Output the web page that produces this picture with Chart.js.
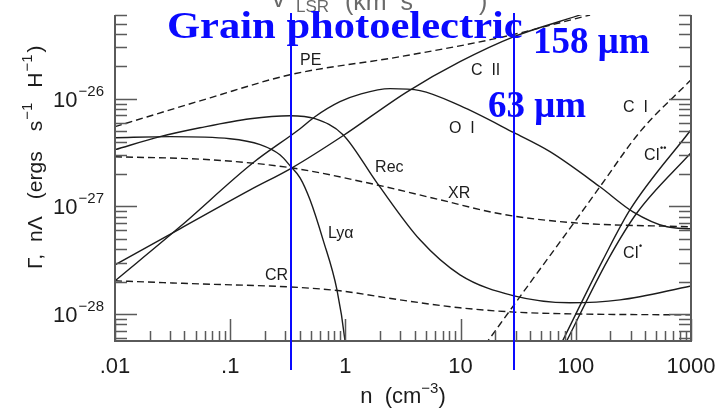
<!DOCTYPE html>
<html>
<head>
<meta charset="utf-8">
<script src="https://cdn.jsdelivr.net/npm/chart.js@4.4.1/dist/chart.umd.min.js"></script>
<style>
  html, body { margin: 0; padding: 0; background: #fff; }
  canvas { display: block; }
</style>
</head>
<body>
<canvas id="coolingChart" width="722" height="412"></canvas>
<script>
// heating / cooling rates per H atom against density n (cm^-3)
const peN    = [0.01, 0.067, 0.33, 3.0, 22, 133];
const peRate = [5.5e-27, 1.02e-26, 1.67e-26, 2.46e-26, 3.7e-26, 6.0e-26];

const ciiN    = [0.01, 0.0366, 0.149, 0.344, 0.953, 3.43, 9.88, 29.1, 111, 200];
const ciiRate = [2.86e-28, 6.18e-28, 1.42e-27, 2.28e-27, 4.53e-27, 1.16e-26, 2.21e-26, 3.78e-26, 6.04e-26, 7.5e-26];

const oiN    = [0.01, 0.0366, 0.158, 0.404, 0.544, 0.897, 1.37, 2.44, 4.44, 9.88, 29.1, 59.7, 162, 314, 619, 1000];
const oiRate = [2.03e-28, 6.45e-28, 2.54e-27, 5.26e-27, 6.8e-27, 9.38e-27, 1.11e-26, 1.24e-26, 1.19e-26, 8.61e-27, 4.83e-27, 3.22e-27, 1.52e-27, 8.89e-28, 6.45e-28, 6.18e-28];

const recN    = [0.01, 0.0246, 0.0547, 0.149, 0.33, 0.544, 0.953, 1.88, 4.44, 9.88, 29.1, 89.1, 242, 1000];
const recRate = [3.36e-27, 4.44e-27, 5.37e-27, 6.52e-27, 6.95e-27, 6.52e-27, 4.63e-27, 1.65e-27, 4.88e-28, 2.31e-28, 1.47e-28, 1.27e-28, 1.35e-28, 1.82e-28];

const lyaN    = [0.01, 0.03, 0.0995, 0.182, 0.27, 0.337, 0.404, 0.493, 0.64, 0.845, 0.993, 1.03];
const lyaRate = [4.34e-27, 4.44e-27, 4.25e-27, 3.74e-27, 3.01e-27, 2.33e-27, 1.84e-27, 1.15e-27, 4.88e-28, 1.67e-28, 5.6e-29, 3.7e-29];

const xrN    = [0.01, 0.0668, 0.337, 1.88, 6.62, 22, 96.4, 1000];
const xrRate = [2.89e-27, 2.71e-27, 2.28e-27, 1.58e-27, 1.15e-27, 8.52e-28, 7.03e-28, 6.45e-28];

const crN    = [0.01, 0.0547, 0.33, 0.897, 2.98, 9.88, 29.1, 96.4, 1000];
const crRate = [2.03e-28, 1.9e-28, 1.78e-28, 1.64e-28, 1.35e-28, 1.14e-28, 1.04e-28, 1.0e-28, 9.79e-29];

const ciN    = [16.3, 40, 96.4, 162, 361, 1000];
const ciRate = [5.15e-29, 1.94e-28, 7.03e-28, 1.52e-27, 4.93e-27, 1.5e-26];

const ci2N    = [70, 172, 295, 1000];
const ci2Rate = [4.6e-29, 3.18e-28, 9.27e-28, 5.15e-27];

const ci1N    = [76, 190, 340, 1000];
const ci1Rate = [4.6e-29, 3.18e-28, 8.71e-28, 3.15e-27];

// densities of the two marked lines (158 um and 63 um)
const markerN = [0.337, 29.1];

const xTickValues = [0.01, 0.1, 1, 10, 100, 1000];
const xTickLabels = ['.01', '.1', '1', '10', '100', '1000'];
const yTickExps = [-28, -27, -26];

// curve names, placed at (n, rate)
const curveLabels = [
    { text: 'PE',   n: 0.404, rate: 2.07e-26 },
    { text: 'C  II', n: 12.3, rate: 1.67e-26 },
    { text: 'O  I', n: 7.93,  rate: 4.83e-27 },
    { text: 'C  I', n: 257,   rate: 7.57e-27 },
    { text: 'Rec',  n: 1.81,  rate: 2.09e-27 },
    { text: 'XR',   n: 7.78,  rate: 1.2e-27 },
    { text: 'Ly\u03b1', n: 0.706, rate: 5.09e-28 },
    { text: 'CR',   n: 0.2,   rate: 2.07e-28 },
    { text: 'CI',   n: 391,   rate: 2.71e-27, sup: '\u2022\u2022' },
    { text: 'CI',   n: 257,   rate: 3.32e-28, sup: '\u2022' }
];

const INK = '#1c1c1c';
const AXIS = '#5a5a5a';
const BLUE = '#0a0aff';
const SANS = '"Liberation Sans", Arial, sans-serif';
const SERIF = '"Liberation Serif", "Times New Roman", serif';

function pts(xs, ys) {
    return xs.map((x, i) => ({ x: x, y: ys[i] }));
}

function curve(xs, ys, dashed) {
    return {
        data: pts(xs, ys),
        borderColor: INK,
        borderWidth: 1.4,
        borderDash: dashed ? [7, 4] : [],
        pointRadius: 0,
        fill: false,
        cubicInterpolationMode: 'monotone'
    };
}

// draws a run of text pieces left to right; a piece may be raised (dy < 0),
// lowered, or pushed along by a gap before it
function drawRun(ctx, x, y, parts) {
    let cx = x;
    parts.forEach(p => {
        cx += p.gap || 0;
        ctx.font = p.font;
        ctx.fillText(p.t, cx, y + (p.dy || 0));
        cx += ctx.measureText(p.t).width;
    });
    return cx - x;
}

function runWidth(ctx, parts) {
    let w = 0;
    parts.forEach(p => {
        ctx.font = p.font;
        w += (p.gap || 0) + ctx.measureText(p.t).width;
    });
    return w;
}

const framePlugin = {
    id: 'frame',
    afterDatasetsDraw(chart) {
        const ctx = chart.ctx;
        const area = chart.chartArea;
        const xs = chart.scales.x;
        const ys = chart.scales.y;

        ctx.save();
        ctx.strokeStyle = AXIS;
        ctx.lineWidth = 2;
        ctx.beginPath();
        ctx.moveTo(area.left, area.top);
        ctx.lineTo(area.left, area.bottom);
        ctx.lineTo(area.right, area.bottom);
        ctx.lineTo(area.right, area.top);
        ctx.stroke();

        // inward ticks on the log axes
        ctx.lineWidth = 1.5;
        ctx.beginPath();
        for (let e = -2; e <= 3; e++) {
            for (let k = 1; k <= 9; k++) {
                const v = k * Math.pow(10, e);
                if (v > xs.max * 1.0001) continue;
                const px = Math.round(xs.getPixelForValue(v)) + 0.5;
                const len = k === 1 ? 22 : 10;
                ctx.moveTo(px, area.bottom);
                ctx.lineTo(px, area.bottom - len);
            }
        }
        for (let e = -29; e <= -26; e++) {
            for (let k = 1; k <= 9; k++) {
                const v = k * Math.pow(10, e);
                if (v < ys.min || v > ys.max) continue;
                const py = Math.round(ys.getPixelForValue(v)) + 0.5;
                const len = k === 1 ? 22 : 12;
                ctx.moveTo(area.left, py);
                ctx.lineTo(area.left + len, py);
                ctx.moveTo(area.right, py);
                ctx.lineTo(area.right - len, py);
            }
        }
        ctx.stroke();

        ctx.fillStyle = INK;
        ctx.textBaseline = 'alphabetic';

        // x tick labels
        ctx.font = '22px ' + SANS;
        ctx.textAlign = 'center';
        xTickValues.forEach((v, i) => {
            ctx.fillText(xTickLabels[i], xs.getPixelForValue(v), area.bottom + 32);
        });

        // y tick labels, 10 with a raised exponent
        ctx.textAlign = 'left';
        yTickExps.forEach(e => {
            const py = ys.getPixelForValue(Math.pow(10, e));
            const parts = [
                { t: '10', font: '22px ' + SANS },
                { t: '\u2212' + Math.abs(e), font: '15px ' + SANS, dy: -11, gap: 1 }
            ];
            const w = runWidth(ctx, parts);
            drawRun(ctx, 104 - w, py + 8, parts);
        });

        // axis titles
        const xt = [
            { t: 'n  (cm', font: '22px ' + SANS },
            { t: '\u22123', font: '15px ' + SANS, dy: -10 },
            { t: ')', font: '22px ' + SANS }
        ];
        const xw = runWidth(ctx, xt);
        drawRun(ctx, (area.left + area.right) / 2 - xw / 2, 403, xt);

        const yt = [
            { t: '\u0393,', font: '21px ' + SANS },
            { t: 'n\u039b', font: '21px ' + SANS, gap: 12 },
            { t: '(ergs', font: '21px ' + SANS, gap: 17 },
            { t: 's', font: '21px ' + SANS, gap: 20 },
            { t: '\u22121', font: '15px ' + SANS, dy: -10, gap: 1 },
            { t: 'H', font: '21px ' + SANS, gap: 15 },
            { t: '\u22121', font: '15px ' + SANS, dy: -10, gap: 1 },
            { t: ')', font: '21px ' + SANS, gap: 2 }
        ];
        ctx.save();
        ctx.translate(42, 269);
        ctx.rotate(-Math.PI / 2);
        drawRun(ctx, 0, 0, yt);
        ctx.restore();

        // upper axis title, mostly cut off by the top edge
        ctx.fillStyle = '#6a6a6a';
        ctx.font = '26px ' + SANS;
        ctx.fillText('v', 272, 7);
        ctx.font = '17px ' + SANS;
        ctx.fillText('LSR', 296, 12);
        ctx.font = '25px ' + SANS;
        ctx.fillText('(km  s', 345, 10);
        ctx.font = '17px ' + SANS;
        ctx.fillText('\u22121', 430, -2);
        ctx.font = '25px ' + SANS;
        ctx.fillText(')', 479, 10);

        // curve names
        ctx.fillStyle = INK;
        curveLabels.forEach(l => {
            const px = xs.getPixelForValue(l.n);
            const py = ys.getPixelForValue(l.rate);
            const parts = [{ t: l.text, font: '16px ' + SANS }];
            if (l.sup) parts.push({ t: l.sup, font: 'bold 9px ' + SANS, dy: -9 });
            drawRun(ctx, px, py, parts);
        });

        // marked densities
        ctx.strokeStyle = BLUE;
        ctx.lineWidth = 2;
        ctx.beginPath();
        markerN.forEach(n => {
            const px = Math.round(xs.getPixelForValue(n));
            ctx.moveTo(px, 13);
            ctx.lineTo(px, 370);
        });
        ctx.stroke();

        ctx.fillStyle = BLUE;
        ctx.font = 'bold 38px ' + SERIF;
        ctx.save();
        ctx.translate(167, 38);
        ctx.scale(1.12, 1);
        ctx.fillText('Grain photoelectric', 0, 0);
        ctx.restore();
        ctx.font = 'bold 37px ' + SERIF;
        ctx.fillText('158 \u03bcm', 533, 53);
        ctx.fillText('63 \u03bcm', 488, 117);
        ctx.restore();
    }
};

new Chart(document.getElementById('coolingChart'), {
    type: 'line',
    data: {
        datasets: [
            curve(peN, peRate, true),
            curve(ciiN, ciiRate, false),
            curve(oiN, oiRate, false),
            curve(recN, recRate, false),
            curve(lyaN, lyaRate, false),
            curve(xrN, xrRate, true),
            curve(crN, crRate, true),
            curve(ciN, ciRate, true),
            curve(ci2N, ci2Rate, false),
            curve(ci1N, ci1Rate, false)
        ]
    },
    options: {
        responsive: false,
        devicePixelRatio: 1,
        animation: false,
        events: [],
        layout: { padding: { left: 115, right: 31, top: 15, bottom: 71 } },
        plugins: { legend: { display: false }, tooltip: { enabled: false } },
        scales: {
            x: { type: 'logarithmic', min: 0.01, max: 1000, display: false },
            y: { type: 'logarithmic', min: 5.6e-29, max: 6e-26, display: false }
        }
    },
    plugins: [framePlugin]
});
</script>
</body>
</html>
